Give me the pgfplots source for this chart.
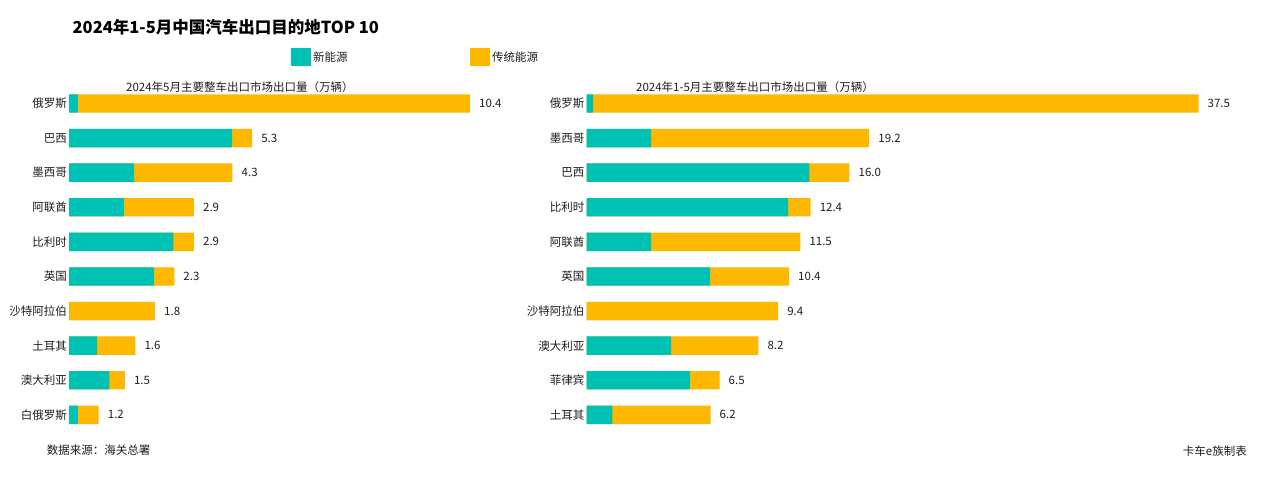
\documentclass[border=0pt]{standalone}
\usepackage{pgfplots}
\pgfplotsset{compat=1.18}
\usepackage{pgfplotstable}
\usepackage{fontspec}
\setmainfont{Noto Sans CJK SC}
\definecolor{teal1}{RGB}{0,194,180}
\definecolor{gold1}{RGB}{255,184,0}
\definecolor{txt}{RGB}{30,30,30}
\newcommand{\fs}{\fontsize{11.5bp}{13bp}\selectfont}

% May 2024: new-energy part, total (bar lengths as drawn), printed label
\pgfplotstableread{
i nev tot lab
0 0.23 10.40 10.4
1 4.23 4.75 5.3
2 1.69 4.24 4.3
3 1.42 3.24 2.9
4 2.71 3.24 2.9
5 2.20 2.73 2.3
6 0.00 2.23 1.8
7 0.73 1.72 1.6
8 1.05 1.45 1.5
9 0.23 0.77 1.2
}\leftdata

% Jan-May 2024
\pgfplotstableread{
i nev tot lab
0 0.40 37.50 37.5
1 3.96 17.32 19.2
2 13.65 16.11 16.0
3 12.35 13.73 12.4
4 3.96 13.10 11.5
5 7.57 12.41 10.4
6 0.00 11.74 9.4
7 5.18 10.53 8.2
8 6.33 8.15 6.5
9 1.59 7.60 6.2
}\rightdata

\pgfplotsset{
  panel/.style={
    xbar,
    bar shift=0pt,
    y dir=reverse,
    ymin=-0.5, ymax=9.5,
    y=34.6bp,
    xmin=0,
    bar width=18.4bp,
    axis line style={draw=none},
    tick style={draw=none},
    major tick length=0pt,
    xtick=\empty,
    ytick={0,...,9},
    yticklabel style={anchor=east, inner sep=0pt, xshift=-2bp, font=\fs, text=txt},
    clip=false,
    every node near coord/.append style={anchor=west, inner sep=0pt, xshift=9bp, font=\fs, text=txt},
  },
}

\begin{document}
\begin{tikzpicture}
\path[use as bounding box, fill=white] (0,0) rectangle (1267bp,479bp);

% title
\node[anchor=west, inner sep=0pt, text=black, font=\fontsize{16.5bp}{20bp}\selectfont\bfseries] at (72.5bp,452bp) {2024年1-5月中国汽车出口目的地TOP 10};

% legend
\fill[teal1] (291bp,413bp) rectangle (310.7bp,430.7bp);
\node[anchor=west, inner sep=0pt, font=\fs, text=txt] at (313bp,422bp) {新能源};
\fill[gold1] (469.6bp,413bp) rectangle (490bp,430.7bp);
\node[anchor=west, inner sep=0pt, font=\fs, text=txt] at (492bp,422bp) {传统能源};

% subtitles
\node[anchor=west, inner sep=0pt, font=\fs, text=txt] at (126bp,392bp) {2024年5月主要整车出口市场出口量（万辆）};
\node[anchor=west, inner sep=0pt, font=\fs, text=txt] at (636bp,392bp) {2024年1-5月主要整车出口市场出口量（万辆）};

% left panel
\begin{axis}[panel,
  x=38.56bp, xmax=12,
  at={(69bp,392.8bp)}, anchor=north west,
  yticklabels={俄罗斯,巴西,墨西哥,阿联酋,比利时,英国,沙特阿拉伯,土耳其,澳大利亚,白俄罗斯},
]
\addplot[fill=gold1, draw=none, nodes near coords, point meta=explicit symbolic] table[x=tot, y=i, meta=lab] {\leftdata};
\addplot[fill=teal1, draw=none] table[x=nev, y=i] {\leftdata};
\end{axis}

% right panel
\begin{axis}[panel,
  x=16.32bp, xmax=42,
  at={(586.5bp,392.8bp)}, anchor=north west,
  yticklabels={俄罗斯,墨西哥,巴西,比利时,阿联酋,英国,沙特阿拉伯,澳大利亚,菲律宾,土耳其},
]
\addplot[fill=gold1, draw=none, nodes near coords, point meta=explicit symbolic] table[x=tot, y=i, meta=lab] {\rightdata};
\addplot[fill=teal1, draw=none] table[x=nev, y=i] {\rightdata};
\end{axis}

% footer
\node[anchor=west, inner sep=0pt, font=\fs, text=txt] at (46.7bp,29bp) {数据来源：海关总署};
\node[anchor=east, inner sep=0pt, font=\fs, text=txt] at (1247bp,28.3bp) {卡车e族制表};
\end{tikzpicture}
\end{document}
